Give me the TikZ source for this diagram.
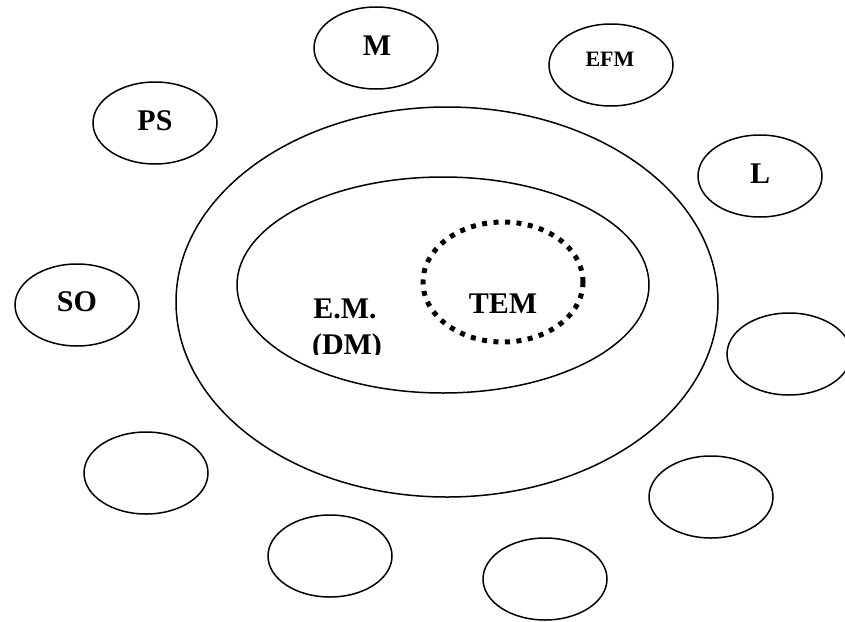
\documentclass[tikz,border=0pt]{standalone}
\usepackage{fontspec}
\setmainfont{Liberation Serif}
\usetikzlibrary{shapes.geometric}
\begin{document}
\begin{tikzpicture}[x=1pt,y=-1pt,
  oval/.style={draw, ellipse, line width=1.5pt, inner sep=0pt, minimum width=124pt, minimum height=82pt},
  big/.style={draw, ellipse, line width=1.5pt, inner sep=0pt},
  dotring/.style={draw, ellipse, line width=5pt, dash pattern=on 5pt off 6.5pt, inner sep=0pt},
  lbl/.style={font=\bfseries\fontsize{30}{36}\selectfont, inner sep=0pt},
  small/.style={font=\bfseries\fontsize{22}{26}\selectfont, inner sep=0pt}]
\useasboundingbox (0,0) rectangle (845,621);
% large rings
\node[big, minimum width=542pt, minimum height=390pt] (outer) at (447,302) {};
\node[big, minimum width=412pt, minimum height=216pt] (inner) at (443,285) {};
\node[dotring, minimum width=160pt, minimum height=120pt] (tem) at (503,282) {};
% labels in the centre
\node[lbl, anchor=base] (temlbl) at (503,313) {TEM};
\node[lbl, anchor=base] (emlbl) at (345,318) {E.M.};
\begin{scope}
  \clip (200,320) rectangle (500,354);
  \node[lbl, anchor=base] (dmlbl) at (347,354) {(DM)};
\end{scope}
% surrounding ellipses
\node[oval] (m) at (376,48) {};
\node[lbl] (mlbl) at (377,46) {M};
\node[oval] (efm) at (611,65) {};
\node[small] (efmlbl) at (610,59) {EFM};
\node[oval] (ps) at (155,123) {};
\node[lbl] (pslbl) at (155,121) {PS};
\node[oval] (l) at (760,176) {};
\node[lbl] (llbl) at (760,174) {L};
\node[oval] (so) at (77,305) {};
\node[lbl] (solbl) at (77,302) {SO};
\node[oval] (r1) at (789,354) {};
\node[oval] (b1) at (146,473) {};
\node[oval] (b2) at (330,556) {};
\node[oval] (b3) at (545,579) {};
\node[oval] (b4) at (711,497) {};
\end{tikzpicture}
\end{document}
